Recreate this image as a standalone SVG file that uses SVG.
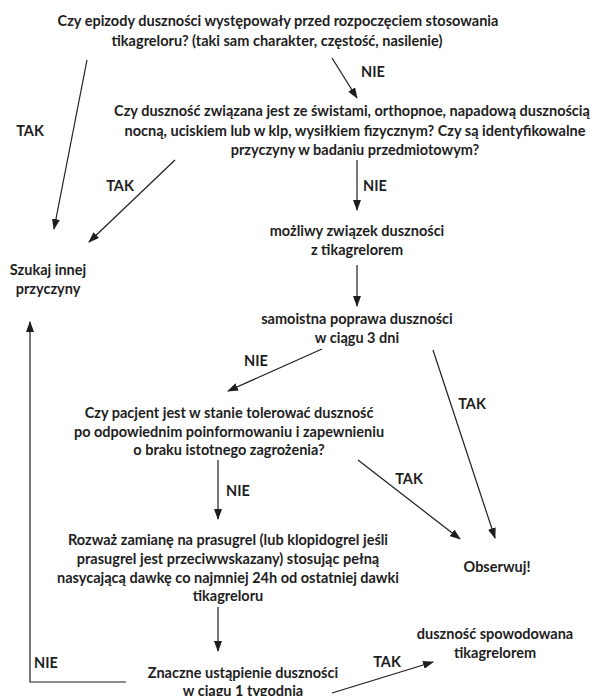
<svg xmlns="http://www.w3.org/2000/svg" width="601" height="696" viewBox="0 0 601 696">
<defs>
<marker id="ah" markerWidth="11" markerHeight="8" refX="10" refY="4" orient="auto" markerUnits="userSpaceOnUse">
<path d="M0,0 L11,4 L0,8 z" fill="#1e1e1e"/>
</marker>
<style>
text{font-family:Lato,"Open Sans","DejaVu Sans",sans-serif;font-weight:bold;font-size:14.5px;fill:#1e1e1e;text-anchor:middle;dominant-baseline:central}
.c{stroke:#1e1e1e;stroke-width:1.2;fill:none}
.a{marker-end:url(#ah)}
</style>
</defs>
<rect width="601" height="696" fill="#fff"/>
<g id="q1">
<text x="278" y="20">Czy epizody duszności występowały przed rozpoczęciem stosowania</text>
<text x="277" y="40">tikagreloru? (taki sam charakter, częstość, nasilenie)</text>
</g>
<g id="q2">
<text x="352" y="110">Czy duszność związana jest ze świstami, orthopnoe, napadową dusznością</text>
<text x="355" y="130">nocną, uciskiem lub w klp, wysiłkiem fizycznym? Czy są identyfikowalne</text>
<text x="355" y="149">przyczyny w badaniu przedmiotowym?</text>
</g>
<g id="szukaj">
<text x="48" y="269">Szukaj innej</text>
<text x="48" y="288">przyczyny</text>
</g>
<g id="mozliwy">
<text x="357" y="230">możliwy związek duszności</text>
<text x="357" y="249">z tikagrelorem</text>
</g>
<g id="samoistna">
<text x="357" y="318">samoistna poprawa duszności</text>
<text x="357" y="337">w ciągu 3 dni</text>
</g>
<g id="q3">
<text x="229" y="412">Czy pacjent jest w stanie tolerować duszność</text>
<text x="229" y="431">po odpowiednim poinformowaniu i zapewnieniu</text>
<text x="229" y="449">o braku istotnego zagrożenia?</text>
</g>
<g id="rozwaz">
<text x="228" y="539">Rozważ zamianę na prasugrel (lub klopidogrel jeśli</text>
<text x="228" y="558">prasugrel jest przeciwwskazany) stosując pełną</text>
<text x="228" y="577">nasycającą dawkę co najmniej 24h od ostatniej dawki</text>
<text x="228" y="595">tikagreloru</text>
</g>
<g id="obserwuj">
<text x="497" y="566">Obserwuj!</text>
</g>
<g id="spowodowana">
<text x="495" y="633">duszność spowodowana</text>
<text x="495" y="652">tikagrelorem</text>
</g>
<g id="znaczne">
<text x="243" y="672">Znaczne ustąpienie duszności</text>
<text x="243" y="690">w ciągu 1 tygodnia</text>
</g>
<g id="connectors">
<line class="c a" x1="87" y1="60" x2="54" y2="229"/>
<line class="c a" x1="332" y1="58" x2="357" y2="98"/>
<line class="c a" x1="175" y1="160" x2="89" y2="242"/>
<line class="c a" x1="357" y1="160" x2="357" y2="210"/>
<line class="c a" x1="357" y1="265" x2="357" y2="306"/>
<line class="c a" x1="322" y1="349" x2="228" y2="391"/>
<line class="c a" x1="433" y1="350" x2="495" y2="538"/>
<line class="c a" x1="358" y1="460" x2="460" y2="539"/>
<line class="c a" x1="218" y1="460" x2="218" y2="519"/>
<line class="c a" x1="218" y1="607" x2="218" y2="651"/>
<polyline class="c a" points="126,682 30,682 30,322"/>
<line class="c a" x1="332" y1="693" x2="433" y2="662"/>
<text x="30" y="130">TAK</text>
<text x="373" y="71">NIE</text>
<text x="120" y="185">TAK</text>
<text x="375" y="185">NIE</text>
<text x="256" y="360">NIE</text>
<text x="472" y="403">TAK</text>
<text x="409" y="478">TAK</text>
<text x="238" y="490">NIE</text>
<text x="46" y="662">NIE</text>
<text x="387" y="661">TAK</text>
</g>
</svg>
